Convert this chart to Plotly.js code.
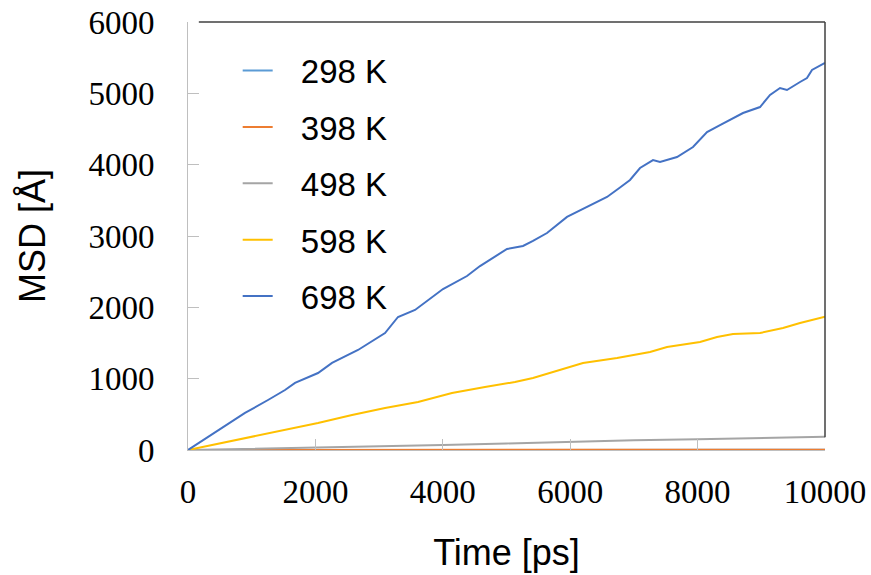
<!DOCTYPE html>
<html>
<head>
<meta charset="utf-8">
<script src="https://cdn.plot.ly/plotly-3.0.1.min.js"></script>
<style>html,body{margin:0;padding:0;background:#fff;}#chart{width:871px;height:575px;}
#chart .xtick text, #chart .ytick text{font-family:'Liberation Serif','Times New Roman',Times,serif !important;}</style>
</head>
<body>
<div id="chart"></div>
<script>
// ---- data ----
const seriesNames = ["298 K", "398 K", "498 K", "598 K", "698 K"];
const seriesColors = ["#5B9BD5", "#ED7D31", "#A5A5A5", "#FFC000", "#4472C4"];

const t298 = [0, 1000, 2000, 3000, 4000, 5000, 6000, 7000, 8000, 9000, 10000];
const v298 = [0, 0.3, 0.6, 0.8, 1.0, 1.2, 1.4, 1.6, 1.8, 2.0, 2.2];

const t398 = [0, 1000, 2000, 3000, 4000, 5000, 6000, 7000, 8000, 9000, 10000];
const v398 = [0, 0.5, 1.0, 1.4, 1.8, 2.2, 2.6, 3.0, 3.4, 3.8, 4.2];

const t498 = [0, 1000, 2000, 3000, 4000, 5000, 6000, 7000, 8000, 9000, 10000];
const v498 = [0, 15, 33, 52, 70, 92, 115, 135, 150, 168, 185];

const t598 = [0, 1005, 1523, 2041, 2575, 3093, 3611, 4144, 4662, 5133, 5416, 5950, 6201, 6735, 7253, 7520, 8038, 8305, 8556, 8980, 9341, 9608, 10000];
const v598 = [0, 182, 280, 379, 491, 589, 673, 799, 883, 953, 1009, 1149, 1219, 1290, 1374, 1444, 1514, 1584, 1626, 1640, 1710, 1780, 1870];

const t698 = [0, 895, 1256, 1523, 1680, 2041, 2261, 2669, 3093, 3297, 3564, 4003, 4380, 4584, 5008, 5259, 5416, 5636, 5950, 6264, 6578, 6782, 6939, 7096, 7300, 7410, 7677, 7928, 8148, 8352, 8713, 8980, 9137, 9294, 9403, 9608, 9717, 9796, 10000];
const v698 = [0, 519, 701, 841, 940, 1079, 1220, 1402, 1640, 1865, 1963, 2257, 2439, 2579, 2818, 2860, 2930, 3042, 3267, 3407, 3547, 3680, 3785, 3953, 4065, 4037, 4107, 4247, 4458, 4556, 4724, 4808, 4977, 5075, 5047, 5159, 5215, 5328, 5426];

const xs = [t298, t398, t498, t598, t698];
const ys = [v298, v398, v498, v598, v698];

const xTicks = [0, 2000, 4000, 6000, 8000, 10000];
const yTicks = [0, 1000, 2000, 3000, 4000, 5000, 6000];

const traces = seriesNames.map((n, i) => ({
  x: xs[i], y: ys[i], name: "\u2002\u2009" + n, type: "scatter", mode: "lines",
  legendgroup: "g" + i,
  line: {color: seriesColors[i], width: 2}
}));

const gridGray = "#BFBFBF";
const sans = "Liberation Sans";
const serif = "'Liberation Serif', 'Times New Roman', Times, serif";
const layout = {
  width: 871, height: 575,
  margin: {l: 188, r: 46, t: 22, b: 125},
  paper_bgcolor: "#fff", plot_bgcolor: "#fff",
  font: {family: sans, size: 33, color: "#000"},
  showlegend: true,
  legend: {
    x: 0.078, y: 0.952, xanchor: "left", yanchor: "top",
    font: {family: sans, size: 33, color: "#000"},
    bgcolor: "rgba(0,0,0,0)", borderwidth: 0,
    tracegroupgap: 10.5, traceorder: "grouped", itemwidth: 30
  },
  xaxis: {
    range: [0, 10000], tickvals: xTicks, ticktext: xTicks.map(String),
    showgrid: false, zeroline: false,
    showline: true, linecolor: gridGray, linewidth: 1,
    ticks: "inside", ticklen: 11, tickcolor: gridGray, tickwidth: 1,
    ticklabelstandoff: 12,
    tickfont: {family: serif, size: 33, color: "#000"},
    title: {text: "Time [ps]", standoff: 31,
      font: {family: sans, size: 36, color: "#000"}}
  },
  yaxis: {
    range: [0, 6000], tickvals: yTicks, ticktext: yTicks.map(String),
    showgrid: false, zeroline: false,
    showline: true, linecolor: gridGray, linewidth: 1,
    ticks: "inside", ticklen: 11, tickcolor: gridGray, tickwidth: 1,
    ticklabelstandoff: 26,
    tickfont: {family: serif, size: 33, color: "#000"},
    title: {text: "MSD [Å]", standoff: 31,
      font: {family: sans, size: 36, color: "#000"}}
  },
  shapes: [
    {type: "line", xref: "paper", yref: "paper", x0: 0.017, x1: 1, y0: 1, y1: 1, line: {color: "#404040", width: 1.5}},
    {type: "line", xref: "paper", yref: "paper", x0: 1, x1: 1, y0: 0.03, y1: 1, line: {color: "#404040", width: 1.5}}
  ]
};

function fixTickFonts(gd) {
  gd.querySelectorAll(".xtick text, .ytick text").forEach(t => {
    t.style.setProperty("font-family", serif, "important");
  });
}
function draw() {
  return Plotly.newPlot("chart", traces, layout, {displayModeBar: false, staticPlot: true}).then(gd => {
    fixTickFonts(gd);
    setTimeout(() => fixTickFonts(gd), 0);
    setTimeout(() => fixTickFonts(gd), 200);
    return gd;
  });
}
const fontLoads = (document.fonts && document.fonts.load)
  ? Promise.all([
      document.fonts.load('33px "Liberation Serif"', "0123456789"),
      document.fonts.load('33px "Liberation Sans"', "0123456789 K")
    ]).catch(() => null)
  : Promise.resolve();
fontLoads.then(draw, draw);
</script>
</body>
</html>
